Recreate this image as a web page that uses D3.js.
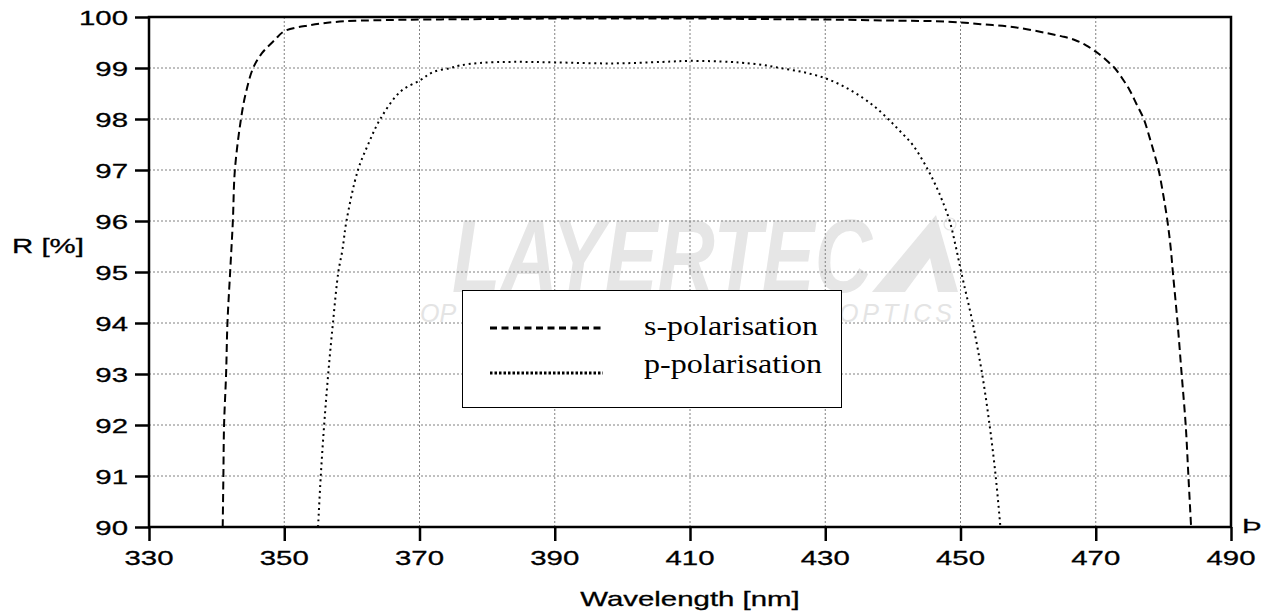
<!DOCTYPE html>
<html>
<head>
<meta charset="utf-8">
<script src="https://cdn.jsdelivr.net/npm/d3@7.9.0/dist/d3.min.js"></script>
<style>
  body { margin: 0; background: #fff; }
  svg { display: block; }
</style>
</head>
<body>
<svg id="chart" width="1266" height="613"></svg>
<script>
// data
const sWave = [340.9, 341.0, 341.1, 341.4, 341.6, 342.0, 342.4, 342.7, 343.6, 344.3, 345.4, 346.7, 348.6, 350, 353.8, 358.2, 365, 380, 390, 400, 410, 420, 430, 440, 448, 453, 458, 462.9, 465, 466.9, 468.5, 470, 471, 472, 472.8, 474, 475, 476, 477.1, 478, 478.7, 479.3, 480, 480.6, 481.1, 481.4, 482.1, 482.7, 483.3, 483.7, 484.1];
const sRefl = [90, 91, 92, 93, 94, 95, 96, 97, 98, 98.5, 99.0, 99.29, 99.55, 99.72, 99.84, 99.91, 99.94, 99.96, 99.97, 99.97, 99.97, 99.96, 99.95, 99.93, 99.91, 99.86, 99.8, 99.68, 99.62, 99.55, 99.45, 99.32, 99.22, 99.1, 99.0, 98.78, 98.57, 98.3, 98.0, 97.62, 97.3, 97.0, 96.5, 96.0, 95.45, 95.0, 94, 93, 92, 91, 90];

const pWave = [355.0, 355.4, 355.9, 356.5, 357.2, 358.0, 358.6, 359.2, 360.9, 362.4, 364.2, 367.2, 370.1, 372.0, 374.6, 376, 379, 383.8, 390, 398.6, 406, 410, 415.9, 418, 420.8, 423.3, 426.7, 430, 433, 435.6, 437.5, 439.3, 441, 443, 445.2, 446.5, 447.3, 448.4, 449.3, 450.1, 451.8, 453.2, 454.3, 455.2, 455.9];
const pRefl = [90, 91, 92, 93, 94, 95, 95.43, 96, 97, 97.5, 98, 98.54, 98.76, 98.92, 99.0, 99.05, 99.10, 99.12, 99.11, 99.09, 99.12, 99.14, 99.12, 99.1, 99.06, 99.0, 98.92, 98.8, 98.62, 98.41, 98.22, 98.0, 97.77, 97.48, 97.0, 96.65, 96.4, 96.0, 95.5, 95.0, 94, 93, 92, 91, 90];

const xTicks = [330, 350, 370, 390, 410, 430, 450, 470, 490];
const yTicks = [90, 91, 92, 93, 94, 95, 96, 97, 98, 99, 100];
const seriesNames = ["s-polarisation", "p-polarisation"];

const svg = d3.select("#chart");
const pL = 149, pR = 1231, pT = 17, pB = 527;
const stretch = 1.4; // reference text is drawn wide

const x = d3.scaleLinear().domain([330, 490]).range([pL, pR]);
const y = d3.scaleLinear().domain([90, 100]).range([pB, pT]);

// watermark (only the parts not hidden by the legend box)
const wm = svg.append("g").attr("fill", "#e6e6e6");
wm.append("text")
  .attr("x", 452).attr("y", 292)
  .attr("font-family", "Liberation Sans, Arial, sans-serif")
  .attr("font-weight", "bold").attr("font-style", "italic")
  .attr("font-size", 104)
  .attr("textLength", 420).attr("lengthAdjust", "spacingAndGlyphs")
  .text("LAYERTEC");
wm.append("path")
  .attr("d", "M872,292 L936,215 L958,292 L938,292 L930,258 L905,292 Z");
wm.append("circle")
  .attr("cx", 950).attr("cy", 224).attr("r", 6)
  .attr("fill", "none").attr("stroke", "#e6e6e6").attr("stroke-width", 1.2);
wm.append("text")
  .attr("x", 420).attr("y", 322)
  .attr("font-family", "Liberation Sans, Arial, sans-serif")
  .attr("font-size", 25).attr("font-style", "italic")
  .attr("fill", "#e4e4e4")
  .text("OP");
wm.append("text")
  .attr("x", 956).attr("y", 322).attr("text-anchor", "end")
  .attr("font-family", "Liberation Sans, Arial, sans-serif")
  .attr("font-size", 25).attr("font-style", "italic")
  .attr("letter-spacing", 4)
  .attr("fill", "#e4e4e4")
  .text("OPTICS");

// grid
const grid = svg.append("g").attr("stroke", "#808080").attr("stroke-width", 1).attr("stroke-dasharray", "2,2");
grid.selectAll(".gx").data(xTicks.slice(1, -1)).join("line")
  .attr("x1", d => x(d)).attr("x2", d => x(d)).attr("y1", pT).attr("y2", pB);
grid.selectAll(".gy").data(yTicks.slice(1, -1)).join("line")
  .attr("x1", pL).attr("x2", pR).attr("y1", d => y(d)).attr("y2", d => y(d));

// axes (tick lines only, labels drawn below)
const yAxis = svg.append("g").attr("transform", `translate(${pL},0)`)
  .call(d3.axisLeft(y).tickValues(yTicks).tickSize(14).tickFormat(""));
const xAxis = svg.append("g").attr("transform", `translate(0,${pB})`)
  .call(d3.axisBottom(x).tickValues(xTicks).tickSize(14).tickFormat(""));
[yAxis, xAxis].forEach(g => {
  g.select(".domain").remove();
  g.selectAll(".tick line").attr("stroke", "#000").attr("stroke-width", 2.5);
});

// frame
svg.append("rect")
  .attr("x", pL).attr("y", pT).attr("width", pR - pL).attr("height", pB - pT)
  .attr("fill", "none").attr("stroke", "#000").attr("stroke-width", 2.5);

// wide text helper
function wideText(px, py, str, anchor) {
  return svg.append("text")
    .attr("transform", `translate(${px},${py}) scale(${stretch},1)`)
    .attr("text-anchor", anchor)
    .attr("font-family", "Liberation Sans, Arial, sans-serif")
    .attr("font-size", 21)
    .attr("fill", "#000")
    .attr("stroke", "#000").attr("stroke-width", 0.3)
    .text(str);
}

yTicks.forEach(v => wideText(128, y(v) + 7.5, v, "end"));
xTicks.forEach(v => wideText(x(v), 565, v, "middle"));
wideText(12, 253, "R [%]", "start");
wideText((pL + pR) / 2, 606, "Wavelength [nm]", "middle");
wideText(1242, 533, "Þ", "start");

// curves
const line = d3.line().x(d => x(d[0])).y(d => y(d[1])).curve(d3.curveCatmullRom.alpha(0.5));
const sData = sWave.map((w, i) => [w, sRefl[i]]);
const pData = pWave.map((w, i) => [w, pRefl[i]]);

svg.append("path").datum(sData)
  .attr("d", line).attr("fill", "none")
  .attr("stroke", "#000").attr("stroke-width", 2).attr("stroke-dasharray", "8,4.5");
svg.append("path").datum(pData)
  .attr("d", line).attr("fill", "none")
  .attr("stroke", "#000").attr("stroke-width", 2).attr("stroke-dasharray", "2,3.7");

// legend
const lg = svg.append("g");
lg.append("rect")
  .attr("x", 462.5).attr("y", 290.5).attr("width", 379).attr("height", 117)
  .attr("fill", "#fff").attr("stroke", "#000").attr("stroke-width", 1);
const legendDash = ["7,4.5", "2.5,2"];
seriesNames.forEach((name, i) => {
  const ly = i === 0 ? 328 : 373;
  lg.append("line")
    .attr("x1", 490).attr("x2", 603).attr("y1", ly).attr("y2", ly)
    .attr("stroke", "#000").attr("stroke-width", 3).attr("stroke-dasharray", legendDash[i]);
  lg.append("text")
    .attr("x", 644).attr("y", i === 0 ? 335 : 373)
    .attr("font-family", "Liberation Serif, Times New Roman, serif")
    .attr("font-size", 28)
    .attr("textLength", i === 0 ? 174 : 178).attr("lengthAdjust", "spacingAndGlyphs")
    .text(name);
});
</script>
</body>
</html>
